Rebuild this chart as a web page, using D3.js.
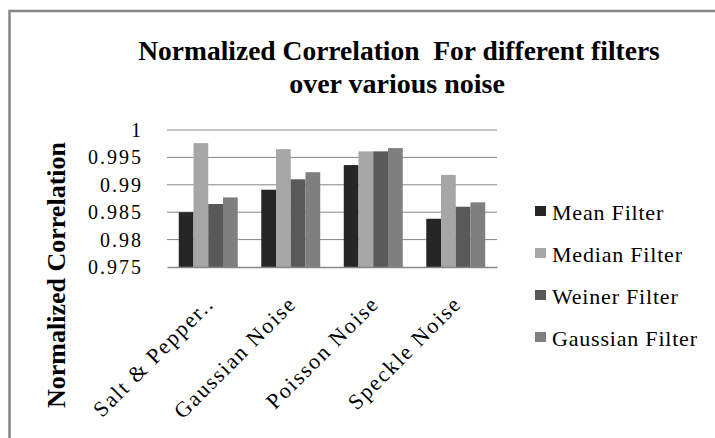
<!DOCTYPE html>
<html>
<head>
<meta charset="utf-8">
<script src="https://cdn.jsdelivr.net/npm/d3@7"></script>
<style>
  body { margin: 0; background: #fff; }
  svg { display: block; font-family: "Liberation Serif", "Times New Roman", serif; }
</style>
</head>
<body>
<div id="chart"></div>
<script>
const categories = ["Salt & Pepper..", "Gaussian Noise", "Poisson Noise", "Speckle Noise"];
const seriesNames = ["Mean Filter", "Median Filter", "Weiner Filter", "Gaussian Filter"];
const seriesColors = ["#262626", "#a6a6a6", "#595959", "#7f7f7f"];
const meanFilter = [0.9850, 0.9891, 0.9936, 0.9838];
const medianFilter = [0.9976, 0.9965, 0.9961, 0.9918];
const weinerFilter = [0.9865, 0.9910, 0.9961, 0.9860];
const gaussianFilter = [0.9877, 0.9923, 0.9967, 0.9868];
const yTicks = [0.975, 0.98, 0.985, 0.99, 0.995, 1];

const series = [meanFilter, medianFilter, weinerFilter, gaussianFilter];

const width = 715, height = 438;
const margin = { top: 130, right: 218, bottom: 171, left: 167 };
const innerW = width - margin.left - margin.right;
const innerH = height - margin.top - margin.bottom;

const svg = d3.select("#chart").append("svg")
    .attr("width", width)
    .attr("height", height);

// outer frame (right/bottom edges fall outside the picture)
svg.append("rect")
    .attr("x", 9.5).attr("y", 11)
    .attr("width", 720).attr("height", 440)
    .attr("fill", "none")
    .attr("stroke", "#868686")
    .attr("stroke-width", 2.5);

svg.append("text")
    .attr("x", 399).attr("y", 60)
    .attr("text-anchor", "middle")
    .attr("xml:space", "preserve")
    .style("font-weight", "bold")
    .style("font-size", "27.5px")
    .text("Normalized Correlation  For different filters");

svg.append("text")
    .attr("x", 397).attr("y", 93)
    .attr("text-anchor", "middle")
    .style("font-weight", "bold")
    .style("font-size", "28px")
    .text("over various noise");

const g = svg.append("g")
    .attr("transform", `translate(${margin.left},${margin.top})`);

const x = d3.scaleBand()
    .domain(categories)
    .range([0, innerW])
    .paddingInner(0.285)
    .paddingOuter(0.1425);

const x1 = d3.scaleBand()
    .domain(seriesNames)
    .range([0, x.bandwidth()]);

const y = d3.scaleLinear()
    .domain([0.975, 1])
    .range([innerH, 0]);

// gridlines
g.append("g")
    .selectAll("line")
    .data(yTicks.slice(1))
    .join("line")
    .attr("x1", 0).attr("x2", innerW)
    .attr("y1", d => y(d)).attr("y2", d => y(d))
    .attr("stroke", "#868686")
    .attr("stroke-width", 1);

// y axis labels
const yAxis = g.append("g")
    .call(d3.axisLeft(y).tickValues(yTicks).tickSize(0).tickPadding(24)
        .tickFormat(d => String(+d.toFixed(3))));
yAxis.select(".domain").remove();
yAxis.selectAll("text")
    .style("font-family", "'Liberation Serif', serif")
    .style("font-size", "20px")
    .style("letter-spacing", "2px")
    .attr("fill", "#000");

// bars
const groups = g.append("g")
    .selectAll("g")
    .data(categories)
    .join("g")
    .attr("transform", d => `translate(${x(d)},0)`);

groups.selectAll("rect")
    .data((c, i) => series.map((s, j) => ({ name: seriesNames[j], value: s[i], color: seriesColors[j] })))
    .join("rect")
    .attr("x", d => x1(d.name))
    .attr("y", d => y(d.value))
    .attr("width", x1.bandwidth())
    .attr("height", d => innerH - y(d.value))
    .attr("fill", d => d.color);

// x axis
const xAxis = g.append("g")
    .attr("transform", `translate(0,${innerH})`)
    .call(d3.axisBottom(x).tickSize(0).tickPadding(0));
xAxis.select(".domain")
    .attr("stroke", "#868686")
    .attr("stroke-width", 1.5);
xAxis.selectAll("text")
    .attr("transform", "translate(7,38) rotate(-45)")
    .attr("y", 0)
    .attr("dy", "0")
    .style("text-anchor", "end")
    .style("font-family", "'Liberation Serif', serif")
    .style("font-size", "22px")
    .style("letter-spacing", "1.8px")
    .attr("fill", "#000");

// y axis title
svg.append("text")
    .attr("transform", "translate(65,275) rotate(-90)")
    .attr("text-anchor", "middle")
    .style("font-weight", "bold")
    .style("font-size", "26px")
    .text("Normalized Correlation");

// legend
const legend = svg.append("g")
    .selectAll("g")
    .data(seriesNames)
    .join("g")
    .attr("transform", (d, i) => `translate(535,${206 + i * 42})`);

legend.append("rect")
    .attr("width", 11).attr("height", 10)
    .attr("fill", (d, i) => seriesColors[i]);

legend.append("text")
    .attr("x", 17).attr("y", 14)
    .style("font-size", "22px")
    .style("letter-spacing", "0.8px")
    .text(d => d);
</script>
</body>
</html>
